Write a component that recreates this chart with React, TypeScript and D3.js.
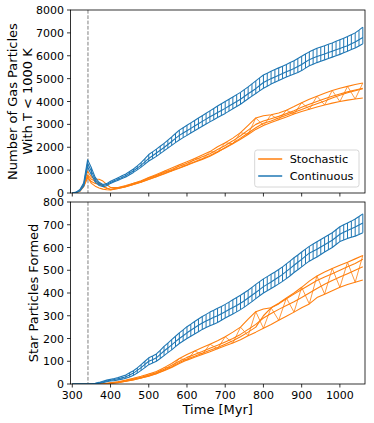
import React from "react";
import * as d3 from "d3";

// sample times [Myr] of the continuous runs
const contTimes = [300, 310, 320, 330, 340, 350, 360, 370, 380, 390, 400, 410, 420, 430, 440, 450, 460, 470, 480, 490, 500, 510, 520, 530, 540, 550, 560, 570, 580, 590, 600, 610, 620, 630, 640, 650, 660, 670, 680, 690, 700, 710, 720, 730, 740, 750, 760, 770, 780, 790, 800, 810, 820, 830, 840, 850, 860, 870, 880, 890, 900, 910, 920, 930, 940, 950, 960, 970, 980, 990, 1000, 1010, 1020, 1030, 1040, 1050, 1060];
// sample times [Myr] of the stochastic runs
const stochTimes = [300, 310, 320, 330, 340, 345, 350, 360, 370, 380, 390, 400, 420, 440, 460, 480, 500, 520, 540, 560, 580, 600, 620, 640, 660, 680, 700, 720, 740, 760, 780, 800, 820, 840, 860, 880, 900, 920, 940, 960, 980, 1000, 1020, 1040, 1060];

// gas particles with T < 1000 K, continuous runs
const gasContLo = [0, 20, 90, 300, 1150, 800, 480, 330, 280, 320, 420, 490, 560, 630, 700, 800, 900, 1010, 1130, 1260, 1400, 1500, 1600, 1720, 1840, 1960, 2080, 2200, 2320, 2420, 2520, 2620, 2720, 2820, 2920, 3015, 3110, 3205, 3300, 3390, 3480, 3580, 3680, 3780, 3880, 4000, 4120, 4235, 4350, 4465, 4580, 4670, 4760, 4840, 4920, 4995, 5070, 5135, 5200, 5270, 5350, 5460, 5560, 5630, 5700, 5760, 5820, 5880, 5940, 6000, 6060, 6130, 6200, 6270, 6340, 6430, 6520];
const gasContMid = [0, 30, 120, 380, 1300, 950, 580, 400, 330, 370, 460, 530, 610, 680, 760, 860, 970, 1090, 1220, 1360, 1510, 1630, 1750, 1870, 1990, 2120, 2250, 2390, 2520, 2620, 2720, 2825, 2930, 3030, 3130, 3230, 3330, 3425, 3520, 3610, 3700, 3800, 3900, 4000, 4100, 4220, 4340, 4450, 4560, 4700, 4830, 4915, 5000, 5075, 5150, 5225, 5300, 5370, 5440, 5530, 5620, 5730, 5830, 5900, 5970, 6025, 6080, 6140, 6200, 6260, 6320, 6380, 6440, 6520, 6600, 6700, 6800];
const gasContHi = [0, 40, 150, 450, 1450, 1100, 680, 470, 370, 410, 510, 590, 670, 750, 830, 940, 1050, 1185, 1330, 1500, 1680, 1800, 1920, 2045, 2170, 2310, 2450, 2600, 2750, 2855, 2960, 3065, 3170, 3275, 3380, 3485, 3590, 3695, 3800, 3900, 4000, 4100, 4200, 4300, 4400, 4520, 4640, 4770, 4900, 5030, 5160, 5240, 5320, 5395, 5470, 5545, 5620, 5700, 5780, 5880, 5980, 6080, 6170, 6250, 6330, 6385, 6440, 6500, 6560, 6630, 6700, 6770, 6840, 6920, 7000, 7120, 7250];

// gas particles with T < 1000 K, stochastic runs
const gasStoch0 = [0, 15, 80, 280, 650, 560, 420, 300, 220, 170, 140, 130, 200, 280, 370, 480, 600, 720, 850, 980, 1100, 1230, 1370, 1500, 1640, 1800, 1970, 2150, 2350, 2560, 2780, 2950, 3080, 3200, 3320, 3450, 3560, 3660, 3760, 3850, 3930, 4000, 4060, 4110, 4150];
const gasStoch1 = [0, 20, 100, 340, 780, 700, 600, 520, 450, 330, 220, 160, 220, 300, 400, 510, 640, 770, 900, 1030, 1170, 1300, 1440, 1580, 1720, 1900, 2080, 2280, 2500, 2750, 3000, 3150, 3250, 3350, 3470, 3600, 3750, 3880, 4000, 4120, 4230, 4330, 4420, 4500, 4580];
const gasStoch2 = [0, 25, 120, 400, 950, 820, 700, 600, 600, 520, 380, 240, 240, 330, 430, 540, 680, 810, 950, 1090, 1230, 1370, 1510, 1660, 1810, 2020, 2200, 2400, 2640, 2960, 3280, 3380, 3420, 3500, 3620, 3780, 3950, 4100, 4230, 4360, 4480, 4580, 4660, 4740, 4810];
const gasStoch3 = [0, 20, 90, 320, 720, 600, 500, 420, 380, 280, 200, 150, 200, 280, 370, 470, 590, 710, 830, 960, 1080, 1210, 1340, 1470, 1610, 1780, 1990, 2180, 2400, 2620, 2850, 3050, 3150, 3280, 3400, 3530, 3650, 3780, 3900, 4020, 4150, 4270, 4380, 4470, 4560];

// star particles formed, continuous runs
const starContLo = [0, 0, 0, 0, 0, 0, 1, 3, 6, 10, 13, 15, 18, 21, 25, 31, 38, 48, 60, 72, 85, 92, 100, 112, 125, 138, 150, 164, 178, 189, 200, 210, 220, 230, 240, 248, 256, 263, 270, 280, 290, 299, 308, 317, 327, 338, 350, 362, 375, 388, 400, 410, 420, 430, 440, 451, 463, 476, 490, 502, 515, 528, 540, 549, 558, 569, 580, 590, 600, 613, 626, 633, 640, 645, 650, 657, 665];
const starContMid = [0, 0, 0, 0, 0, 0, 2, 5, 9, 13, 17, 20, 23, 27, 32, 40, 48, 60, 72, 86, 100, 107, 115, 130, 145, 158, 172, 186, 200, 212, 225, 236, 247, 258, 268, 277, 285, 293, 300, 309, 318, 327, 336, 345, 355, 366, 378, 390, 402, 415, 428, 438, 448, 459, 470, 482, 495, 508, 522, 535, 548, 562, 575, 584, 592, 602, 612, 622, 632, 645, 658, 667, 675, 682, 690, 699, 708];
const starContHi = [0, 0, 0, 0, 0, 0, 3, 7, 12, 17, 21, 24, 28, 34, 40, 49, 58, 71, 85, 100, 115, 123, 132, 148, 165, 180, 195, 210, 225, 238, 252, 263, 275, 286, 297, 306, 316, 324, 333, 341, 350, 360, 370, 380, 390, 401, 412, 425, 438, 450, 462, 472, 482, 492, 503, 515, 528, 541, 555, 567, 580, 593, 605, 615, 625, 635, 645, 655, 665, 678, 691, 700, 708, 716, 725, 736, 748];

// star particles formed, stochastic runs
const starStoch0 = [0, 0, 0, 0, 0, 0, 0, 0, 0, 0, 1, 3, 6, 12, 18, 26, 34, 45, 58, 73, 90, 105, 118, 130, 142, 155, 168, 180, 195, 212, 228, 245, 262, 280, 298, 316, 335, 352, 380, 395, 410, 425, 437, 447, 457];
const starStoch1 = [0, 0, 0, 0, 0, 0, 0, 0, 0, 0, 2, 4, 8, 14, 21, 30, 38, 50, 65, 82, 100, 117, 130, 143, 157, 170, 185, 200, 218, 240, 262, 290, 310, 328, 345, 362, 380, 400, 420, 438, 455, 470, 485, 500, 515];
const starStoch2 = [0, 0, 0, 0, 0, 0, 0, 0, 0, 1, 3, 5, 10, 17, 25, 34, 44, 55, 72, 90, 112, 130, 145, 160, 175, 190, 208, 228, 250, 285, 318, 330, 335, 352, 375, 395, 415, 435, 455, 470, 485, 500, 515, 530, 548];
const starStoch3 = [0, 0, 0, 0, 0, 0, 0, 0, 0, 0, 1, 3, 7, 12, 19, 27, 35, 46, 60, 76, 94, 110, 122, 135, 148, 160, 175, 190, 208, 228, 250, 300, 335, 355, 378, 400, 425, 452, 475, 492, 508, 522, 535, 550, 565];

const xTicks = [300, 400, 500, 600, 700, 800, 900, 1000];
const gasTicks = [0, 1000, 2000, 3000, 4000, 5000, 6000, 7000, 8000];
const starTicks = [0, 100, 200, 300, 400, 500, 600, 700, 800];
const dashTime = 341;

const BLUE = "#1f77b4";
const ORANGE = "#ff7f0e";
const FONT = "DejaVu Sans, sans-serif";

const X0 = 70.5;
const X1 = 365;
const x = d3.scaleLinear().domain([295.3, 1065.7]).range([X0, X1]);

type PanelProps = {
  id: string;
  y0: number;
  y1: number;
  yMax: number;
  yTicks: number[];
  cont: number[][];
  stoch: number[][];
  labelLines: string[];
  labelX: number[];
  xLabels: boolean;
};

const Panel = ({ id, y0, y1, yMax, yTicks, cont, stoch, labelLines, labelX, xLabels }: PanelProps) => {
  const y = d3.scaleLinear().domain([0, yMax]).range([y1, y0]);
  const contLine = d3
    .line<number>()
    .x((_, i) => x(contTimes[i]))
    .y((d) => y(d));
  const stochLine = d3
    .line<number>()
    .x((_, i) => x(stochTimes[i]))
    .y((d) => y(d));

  // vertical rungs across the continuous band
  const rungs = contTimes
    .map((t, i) => {
      const vals = cont.map((r) => r[i]);
      return `M${x(t)},${y(d3.min(vals)!)}V${y(d3.max(vals)!)}`;
    })
    .join("");

  // zigzag across the stochastic band
  const zig = stochTimes
    .slice(0, -1)
    .map((t, i) => {
      if (t < 400) return "";
      const a = stoch.map((r) => r[i]);
      const b = stoch.map((r) => r[i + 1]);
      const from = i % 2 === 0 ? d3.max(a)! : d3.min(a)!;
      const to = i % 2 === 0 ? d3.min(b)! : d3.max(b)!;
      return `M${x(t)},${y(from)}L${x(stochTimes[i + 1])},${y(to)}`;
    })
    .join("");

  const midY = (y0 + y1) / 2;

  return (
    <g>
      <defs>
        <clipPath id={`clip-${id}`}>
          <rect x={X0} y={y0} width={X1 - X0} height={y1 - y0} />
        </clipPath>
      </defs>
      <line x1={x(dashTime)} x2={x(dashTime)} y1={y0} y2={y1} stroke="#7f7f7f" strokeWidth={1} strokeDasharray="3.7,1.6" />
      <g clipPath={`url(#clip-${id})`} fill="none" strokeWidth={1.1} strokeLinejoin="round">
        {stoch.map((r, k) => (
          <path key={k} d={stochLine(r)!} stroke={ORANGE} />
        ))}
        <path d={zig} stroke={ORANGE} strokeWidth={0.8} />
        {cont.map((r, k) => (
          <path key={k} d={contLine(r)!} stroke={BLUE} />
        ))}
        <path d={rungs} stroke={BLUE} strokeWidth={1} />
      </g>
      <rect x={X0} y={y0} width={X1 - X0} height={y1 - y0} fill="none" stroke="#000" strokeWidth={0.8} />
      {xTicks.map((t) => (
        <g key={t}>
          <line x1={x(t)} x2={x(t)} y1={y1} y2={y1 + 3.5} stroke="#000" strokeWidth={0.8} />
          {xLabels && (
            <text x={x(t)} y={y1 + 15.3} textAnchor="middle" fontSize={11} fontFamily={FONT}>
              {t}
            </text>
          )}
        </g>
      ))}
      {yTicks.map((v) => (
        <g key={v}>
          <line x1={X0 - 3.5} x2={X0} y1={y(v)} y2={y(v)} stroke="#000" strokeWidth={0.8} />
          <text x={X0 - 6.5} y={y(v) + 4} textAnchor="end" fontSize={11} fontFamily={FONT}>
            {v}
          </text>
        </g>
      ))}
      {labelLines.map((s, k) => (
        <text
          key={k}
          transform={`translate(${labelX[k]},${midY}) rotate(-90)`}
          textAnchor="middle"
          fontSize={13}
          fontFamily={FONT}
        >
          {s}
        </text>
      ))}
    </g>
  );
};

const App = () => {
  const lx = 254.7;
  const ly = 150;
  return (
    <svg width={374} height={423} style={{ display: "block", position: "absolute", left: 0, top: 0 }}>
      <rect width={374} height={423} fill="#fff" />
      <Panel
        id="gas"
        y0={10}
        y1={193}
        yMax={8000}
        yTicks={gasTicks}
        cont={[gasContLo, gasContMid, gasContHi]}
        stoch={[gasStoch0, gasStoch1, gasStoch2, gasStoch3]}
        labelLines={["Number of Gas Particles", "With T < 1000 K"]}
        labelX={[17, 31.5]}
        xLabels={false}
      />
      <Panel
        id="star"
        y0={202}
        y1={384}
        yMax={800}
        yTicks={starTicks}
        cont={[starContLo, starContMid, starContHi]}
        stoch={[starStoch0, starStoch1, starStoch2, starStoch3]}
        labelLines={["Star Particles Formed"]}
        labelX={[37.5]}
        xLabels={true}
      />
      <text x={(X0 + X1) / 2} y={414} textAnchor="middle" fontSize={13} fontFamily={FONT}>
        Time [Myr]
      </text>
      {/* legend */}
      <g>
        <rect x={lx} y={ly} width={104.3} height={37} rx={2.5} fill="#fff" fillOpacity={0.8} stroke="#ccc" strokeWidth={0.8} />
        <line x1={lx + 3.5} x2={lx + 27.5} y1={ly + 9} y2={ly + 9} stroke={ORANGE} strokeWidth={1.5} />
        <text x={lx + 35} y={ly + 13} fontSize={11.3} fontFamily={FONT}>Stochastic</text>
        <line x1={lx + 3.5} x2={lx + 27.5} y1={ly + 26} y2={ly + 26} stroke={BLUE} strokeWidth={1.5} />
        <text x={lx + 35} y={ly + 30} fontSize={11.3} fontFamily={FONT}>Continuous</text>
      </g>
    </svg>
  );
};

export default App;
